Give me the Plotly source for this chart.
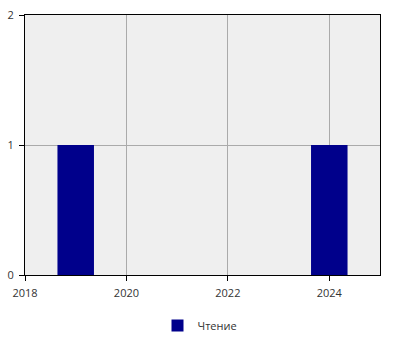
import plotly.graph_objects as go

years = [2019, 2024]
values = [1, 1]
series_name = "Чтение"

fig = go.Figure()
fig.add_trace(go.Bar(
    x=years, y=values, name=series_name,
    marker=dict(color="#00008b", line=dict(width=0)),
    width=0.72, showlegend=True,
))

axis_common = dict(
    showline=True, linecolor="black", linewidth=1, mirror=True,
    ticks="outside", ticklen=5, tickcolor="black",
    showgrid=True, gridcolor="#aaaaaa", gridwidth=1,
    zeroline=False,
    tickfont=dict(family="Open Sans", size=11, color="#333333"),
)
fig.update_layout(
    width=400, height=350,
    margin=dict(l=25, r=20, t=15, b=75),
    paper_bgcolor="white", plot_bgcolor="#efefef",
    xaxis=dict(range=[2018, 2025], tickvals=[2018, 2020, 2022, 2024], automargin=False,
               ticklabelstandoff=3, **axis_common),
    yaxis=dict(range=[0, 2], tickvals=[0, 1, 2], automargin=False,
               ticklabelstandoff=3, **axis_common),
    legend=dict(orientation="h", x=0.5, xanchor="center", xref="container",
                y=0.07, yanchor="middle", yref="container",
                font=dict(family="Open Sans", size=11, color="#333333")),
    showlegend=True,
)
fig.write_html("out.html")
